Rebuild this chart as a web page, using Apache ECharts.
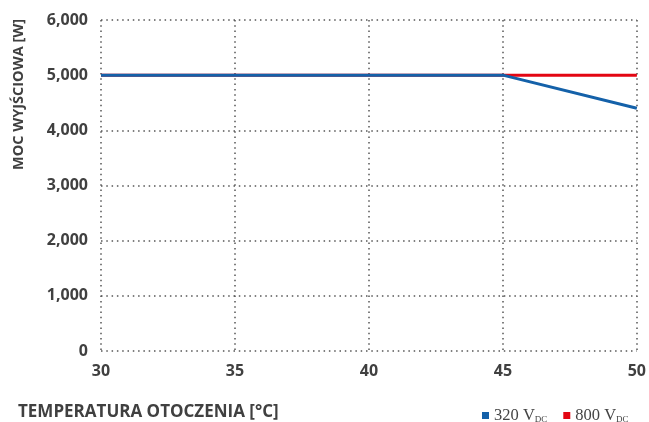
<!DOCTYPE html>
<html lang="en">
<head>
    <meta charset="UTF-8">
    <title>Moc wyjściowa</title>
    <script src="https://cdn.jsdelivr.net/npm/echarts@6/dist/echarts.min.js"></script>
    <style>
        body{margin:0;background:#fff}
        .main{width:649px;height:422px}
    </style>
</head>
<body>
<div class="main"></div>
<script>
    // temperatura [°C] / moc [W]
    let temps = [30, 45, 50];
    let p320 = [5000, 5000, 4400];
    let p800 = [5000, 5000, 5000];
    let xTicks = [30, 35, 40, 45, 50];
    let yTicks = [0, 1000, 2000, 3000, 4000, 5000, 6000];

    let labelFont = {color: '#404040', fontFamily: 'Open Sans', fontWeight: 'bold', fontSize: 16};
    let dotted = {type: [1.5, 3.8], color: '#555', width: 1.5};

    let myChart = echarts.init(document.querySelector('.main'));
    let option = {
        animation: false,
        grid: {left: 101, right: 12, top: 20, bottom: 71},
        xAxis: {
            type: 'value',
            min: xTicks[0],
            max: xTicks[xTicks.length - 1],
            interval: 5,
            axisLine: {show: false},
            axisTick: {show: false},
            axisLabel: Object.assign({margin: 12}, labelFont),
            splitLine: {show: true, lineStyle: dotted}
        },
        yAxis: {
            type: 'value',
            min: yTicks[0],
            max: yTicks[yTicks.length - 1],
            interval: 1000,
            axisLine: {show: false},
            axisTick: {show: false},
            axisLabel: Object.assign({
                margin: 13,
                formatter: v => v.toLocaleString('en-US')
            }, labelFont),
            splitLine: {show: true, lineStyle: dotted}
        },
        legend: {
            left: 477,
            top: 402,
            icon: 'rect',
            itemWidth: 7,
            itemHeight: 7,
            itemGap: 16,
            data: ['320 VDC', '800 VDC'],
            formatter: n => '{a|' + n.slice(0, 5) + '}{s|DC}',
            textStyle: {
                rich: {
                    a: {fontFamily: 'Liberation Serif', fontSize: 16.5, color: '#444'},
                    s: {fontFamily: 'Liberation Serif', fontSize: 9, color: '#444', padding: [9, 0, 0, 0]}
                }
            }
        },
        graphic: [
            {
                type: 'text',
                left: 18,
                top: 404,
                style: {text: 'TEMPERATURA OTOCZENIA [°C]', fill: '#404040',
                    font: 'bold 17px "Open Sans"'}
            },
            {
                type: 'text',
                x: 11,
                y: 170,
                rotation: Math.PI / 2,
                style: {text: 'MOC WYJŚCIOWA [W]', fill: '#404040',
                    font: 'bold 14.5px "Open Sans"'}
            }
        ],
        series: [
            {
                name: '800 VDC',
                type: 'line',
                symbol: 'none',
                color: '#e30613',
                lineStyle: {width: 3},
                data: temps.map((t, i) => [t, p800[i]])
            },
            {
                name: '320 VDC',
                type: 'line',
                symbol: 'none',
                color: '#1461a9',
                lineStyle: {width: 3},
                data: temps.map((t, i) => [t, p320[i]])
            }
        ]
    };
    myChart.setOption(option);
</script>
</body>
</html>
